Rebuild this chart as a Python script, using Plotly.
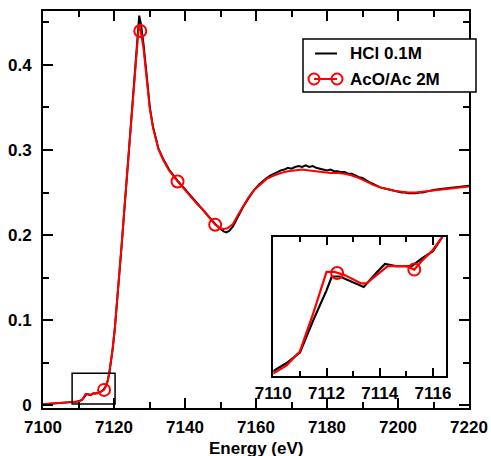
import plotly.graph_objects as go

# ---------------- data ----------------
hcl_energy = [7100, 7102, 7104, 7106, 7108, 7109, 7110.0, 7110.5, 7111.0, 7111.5, 7112.0, 7112.2,
              7112.5, 7113.0, 7113.4, 7113.9, 7114.2, 7114.6, 7115.2, 7115.6, 7116.0, 7116.4,
              7117.0, 7117.6, 7118.2, 7118.7, 7119.2, 7119.6, 7120.2, 7120.8, 7121.5, 7122.2,
              7123.0, 7124.0, 7125.0, 7126.0, 7126.7, 7127.1, 7127.6, 7128.3, 7129.2, 7130.1,
              7131.0, 7131.5, 7132.5, 7133.9, 7135.5, 7137.9, 7140.0, 7141.5, 7143.3, 7145.0,
              7146.8, 7148.5, 7150.0, 7151.0, 7151.7, 7152.5, 7153.5, 7155.0, 7156.5, 7158.0,
              7159.5, 7161, 7162, 7163, 7164, 7165, 7166, 7167, 7168, 7169, 7170, 7171, 7172,
              7173, 7174, 7175, 7176, 7177, 7178, 7179, 7180, 7181, 7182, 7183, 7184, 7185,
              7186, 7187, 7188, 7189, 7190, 7191, 7192, 7193, 7194, 7195, 7196, 7197, 7198,
              7199, 7200, 7201, 7202, 7203, 7204, 7205, 7206, 7207, 7208, 7210, 7212, 7214,
              7216, 7218, 7220]
hcl_mu = [0.0010, 0.0015, 0.0020, 0.0026, 0.0033, 0.0037, 0.0044, 0.0051, 0.0060, 0.0088, 0.0114, 0.0126,
          0.0126, 0.0121, 0.0117, 0.0130, 0.0137, 0.0135, 0.0135, 0.0142, 0.0148, 0.0162,
          0.0178, 0.0215, 0.0280, 0.0380, 0.0520, 0.0650, 0.0880, 0.1160, 0.1500, 0.1900,
          0.2340, 0.2880, 0.3420, 0.3980, 0.4400, 0.4580, 0.4480, 0.4250, 0.3880, 0.3500,
          0.3270, 0.3180, 0.3020, 0.2890, 0.2770, 0.2640, 0.2540, 0.2460, 0.2380, 0.2300,
          0.2210, 0.2130, 0.2070, 0.2040, 0.2030, 0.2050, 0.2100, 0.2220, 0.2340, 0.2440,
          0.2530, 0.2600, 0.2640, 0.2670, 0.2700, 0.2720, 0.2740, 0.2760, 0.2770, 0.2790,
          0.2780, 0.2800, 0.2810, 0.2800, 0.2820, 0.2800, 0.2810, 0.2790, 0.2780, 0.2770,
          0.2760, 0.2770, 0.2750, 0.2750, 0.2740, 0.2740, 0.2720, 0.2720, 0.2700, 0.2680,
          0.2670, 0.2640, 0.2620, 0.2600, 0.2580, 0.2560, 0.2550, 0.2540, 0.2530, 0.2520,
          0.2510, 0.2500, 0.2500, 0.2490, 0.2490, 0.2490, 0.2500, 0.2500, 0.2510, 0.2530,
          0.2540, 0.2550, 0.2560, 0.2570, 0.2580]

aco_energy = [7100, 7102, 7104, 7106, 7108, 7109, 7110.0, 7110.5, 7111.0, 7111.5, 7112.0, 7112.3,
              7112.7, 7113.3, 7113.5, 7114.3, 7115.0, 7115.3, 7115.6, 7116.0, 7116.4, 7117.2,
              7117.6, 7118.2, 7118.7, 7119.2, 7119.6, 7120.2, 7120.8, 7121.5, 7122.2, 7123.0,
              7124.0, 7125.0, 7126.0, 7126.6, 7127.0, 7127.5, 7128.3, 7129.2, 7130.1, 7131.0,
              7131.5, 7132.5, 7133.9, 7135.5, 7137.9, 7140.0, 7141.5, 7143.3, 7145.0, 7146.8,
              7148.5, 7150.0, 7150.8, 7152.0, 7153.5, 7155.0, 7156.5, 7158.0, 7159.5, 7161,
              7163, 7165, 7167, 7169, 7171, 7173, 7175, 7177, 7179, 7181, 7183, 7185, 7187,
              7189, 7191, 7193, 7195, 7197, 7199, 7201, 7203, 7205, 7207, 7209, 7211, 7213,
              7215, 7217, 7220]
aco_mu = [0.0010, 0.0015, 0.0020, 0.0026, 0.0033, 0.0036, 0.0042, 0.0049, 0.0061, 0.0094, 0.0130, 0.0130,
          0.0127, 0.0120, 0.0120, 0.0135, 0.0135, 0.0132, 0.0140, 0.0149, 0.0162, 0.0178,
          0.0210, 0.0280, 0.0390, 0.0530, 0.0660, 0.0890, 0.1170, 0.1510, 0.1910, 0.2350,
          0.2890, 0.3430, 0.3970, 0.4330, 0.4470, 0.4400, 0.4200, 0.3840, 0.3480, 0.3260,
          0.3170, 0.3010, 0.2880, 0.2760, 0.2630, 0.2530, 0.2450, 0.2370, 0.2300, 0.2210,
          0.2120, 0.2080, 0.2070, 0.2080, 0.2130, 0.2240, 0.2350, 0.2450, 0.2530, 0.2590,
          0.2660, 0.2700, 0.2730, 0.2750, 0.2760, 0.2770, 0.2760, 0.2750, 0.2740, 0.2730,
          0.2730, 0.2720, 0.2700, 0.2670, 0.2630, 0.2590, 0.2560, 0.2540, 0.2520, 0.2510,
          0.2500, 0.2500, 0.2510, 0.2520, 0.2530, 0.2540, 0.2550, 0.2560, 0.2570]

# circles drawn along the AcO/Ac curve
aco_marker_energy = [7117.2, 7127.4, 7137.9, 7148.5]
aco_marker_mu = [0.0178, 0.4400, 0.2630, 0.2120]
inset_marker_energy = [7112.4, 7115.3]
inset_marker_mu = [0.0129, 0.0132]

series_names = ["HCl 0.1M", "AcO/Ac 2M"]
x_title = "Energy (eV)"
x_tick_vals = [7100, 7120, 7140, 7160, 7180, 7200, 7220]
y_tick_vals = [0, 0.1, 0.2, 0.3, 0.4]
y_tick_text = ["0", "0.1", "0.2", "0.3", "0.4"]
inset_tick_vals = [7110, 7112, 7114, 7116]

# ---------------- figure ----------------
W, H = 491, 456
L, R, T, B = 43, 22, 11, 48
pw, ph = W - L - R, H - T - B

def px_x(p):  # pixel -> paper
    return (p - L) / pw

def px_y(p):
    return (H - B - p) / ph

RED = "#ff0000"
BLK = "#000000"
font_b = dict(family="Liberation Sans, Arial, sans-serif", size=17, color=BLK, weight="bold")

fig = go.Figure()

# main curves
fig.add_trace(go.Scatter(x=hcl_energy, y=hcl_mu, mode="lines", line=dict(color=BLK, width=2),
                         name=series_names[0], xaxis="x", yaxis="y"))
fig.add_trace(go.Scatter(x=aco_energy, y=aco_mu, mode="lines", line=dict(color=RED, width=2),
                         name=series_names[1], xaxis="x", yaxis="y"))
fig.add_trace(go.Scatter(x=aco_marker_energy, y=aco_marker_mu, mode="markers",
                         marker=dict(symbol="circle-open", size=12, color=RED, line=dict(width=2)),
                         xaxis="x", yaxis="y"))

# inset curves
fig.add_trace(go.Scatter(x=hcl_energy, y=hcl_mu, mode="lines", line=dict(color=BLK, width=2.2),
                         xaxis="x2", yaxis="y2"))
fig.add_trace(go.Scatter(x=aco_energy, y=aco_mu, mode="lines", line=dict(color=RED, width=2.2),
                         xaxis="x2", yaxis="y2"))
fig.add_trace(go.Scatter(x=inset_marker_energy, y=inset_marker_mu, mode="markers",
                         marker=dict(symbol="circle-open", size=12, color=RED, line=dict(width=2)),
                         xaxis="x2", yaxis="y2"))

axis_common = dict(showline=True, linecolor=BLK, linewidth=2, mirror="allticks", ticks="inside",
                   tickcolor=BLK, tickwidth=1.5, showgrid=False, zeroline=False, tickfont=font_b,
                   automargin=False)

fig.update_layout(
    width=W, height=H, margin=dict(l=L, r=R, t=T, b=B),
    paper_bgcolor="white", plot_bgcolor="white", showlegend=False,
    font=font_b, hovermode=False,
    xaxis=dict(range=[7100, 7220], tickvals=x_tick_vals, ticklen=10,
               minor=dict(dtick=10, tick0=7100, ticks="inside", ticklen=6, tickcolor=BLK, tickwidth=1.5),
               ticklabelstandoff=3, domain=[0, 1], anchor="y", **axis_common),
    yaxis=dict(range=[-0.0035, 0.4635], tickvals=y_tick_vals, ticktext=y_tick_text, ticklen=10,
               minor=dict(dtick=0.05, tick0=0, ticks="inside", ticklen=6, tickcolor=BLK, tickwidth=1.5),
               ticklabelstandoff=6, domain=[0, 1], anchor="x", **axis_common),
    xaxis2=dict(range=[7110, 7116.48], tickvals=inset_tick_vals, ticklen=8,
                minor=dict(dtick=1, tick0=7110, ticks="inside", ticklen=5, tickcolor=BLK, tickwidth=1.5),
                domain=[px_x(273.3), px_x(445.7)], anchor="y2",
                showline=True, linecolor=BLK, linewidth=1.5, mirror="allticks", ticks="inside",
                tickcolor=BLK, tickwidth=1.5, showgrid=False, zeroline=False, tickfont=font_b,
                ticklabelstandoff=1, automargin=False),
    yaxis2=dict(range=[0.0040, 0.0160], domain=[px_y(375.7), px_y(237.3)], anchor="x2",
                showline=True, linecolor=BLK, linewidth=1.5, mirror=True, ticks="",
                showticklabels=False, showgrid=False, zeroline=False, automargin=False),
)

# x-axis title
fig.add_annotation(text=x_title, xref="paper", yref="paper", x=0.5, y=px_y(447.5),
                   xanchor="center", yanchor="middle", showarrow=False, font=font_b,
                   height=16, valign="middle")

# zoom box in the main plot
fig.add_shape(type="rect", xref="x", yref="y", x0=7108.2, x1=7120.3, y0=0.0012, y1=0.0373,
              line=dict(color=BLK, width=1.5))

# hand-drawn legend (matches the original "o-o" symbol)
fig.add_shape(type="rect", xref="paper", yref="paper", x0=px_x(303), x1=px_x(476),
              y0=px_y(92), y1=px_y(39), line=dict(color=BLK, width=1.5), fillcolor="white",
              layer="above")
fig.add_shape(type="line", xref="paper", yref="paper", x0=px_x(315), x1=px_x(337),
              y0=px_y(53.5), y1=px_y(53.5), line=dict(color=BLK, width=2))
fig.add_shape(type="line", xref="paper", yref="paper", x0=px_x(314), x1=px_x(337),
              y0=px_y(79), y1=px_y(79), line=dict(color=RED, width=2))
for cx in (314, 337):
    fig.add_shape(type="circle", xref="paper", yref="paper",
                  x0=px_x(cx - 5.5), x1=px_x(cx + 5.5), y0=px_y(79 + 5.5), y1=px_y(79 - 5.5),
                  line=dict(color=RED, width=2), fillcolor="rgba(0,0,0,0)")
for name, yy in zip(series_names, (53.5, 79)):
    fig.add_annotation(text=name, xref="paper", yref="paper", x=px_x(348), y=px_y(yy),
                       xanchor="left", yanchor="middle", showarrow=False, font=font_b)

fig.write_html("out.html", config={"displayModeBar": False},
               post_script="document.body.style.margin='0';document.body.style.padding='0';")
